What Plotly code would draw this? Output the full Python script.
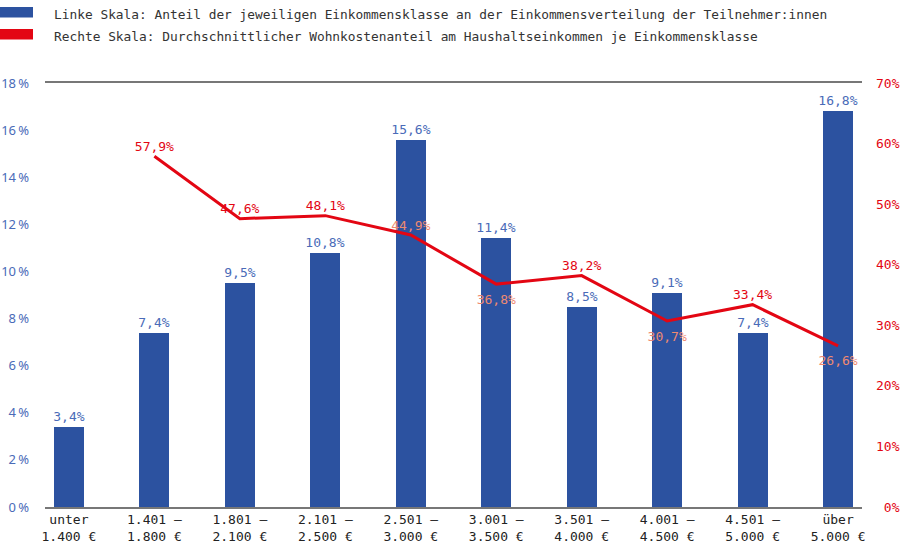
import plotly.graph_objects as go

categories = ["unter<br>1.400 €", "1.401 –<br>1.800 €", "1.801 –<br>2.100 €", "2.101 –<br>2.500 €",
              "2.501 –<br>3.000 €", "3.001 –<br>3.500 €", "3.501 –<br>4.000 €", "4.001 –<br>4.500 €",
              "4.501 –<br>5.000 €", "über<br>5.000 €"]
share_pct = [3.4, 7.4, 9.5, 10.8, 15.6, 11.4, 8.5, 9.1, 7.4, 16.8]
housing_cost_pct = [None, 57.9, 47.6, 48.1, 44.9, 36.8, 38.2, 30.7, 33.4, 26.6]
line_label_above = [False, True, True, True, True, False, True, False, True, False]
line_label_over_bar = [False, False, False, False, True, True, False, True, False, True]

left_ticks = [0, 2, 4, 6, 8, 10, 12, 14, 16, 18]
left_ticktext = [f"{v}\u202f%" for v in left_ticks]
right_ticks = [0, 10, 20, 30, 40, 50, 60, 70]
right_ticktext = [("\u00a0" if v < 10 else "") + f"{v}%" for v in right_ticks]

legend_texts = [
    "Linke Skala: Anteil der jeweiligen Einkommensklasse an der Einkommensverteilung der Teilnehmer:innen",
    "Rechte Skala: Durchschnittlicher Wohnkostenanteil am Haushaltseinkommen je Einkommensklasse",
]

BLUE = "#2c52a0"
BLUE_TXT = "#4a6bb8"
RED = "#e30613"
SALMON = "#ef8a70"
MONO = "DejaVu Sans Mono"


def fmt(v):
    return f"{v:.1f}".replace(".", ",") + "%"


fig = go.Figure()
fig.add_trace(go.Bar(
    x=categories, y=share_pct, marker_color=BLUE, marker_line_width=0, width=0.35,
    text=[fmt(v) for v in share_pct], textposition="outside", cliponaxis=False,
    constraintext="none",
    textfont=dict(family=MONO, size=13, color=BLUE_TXT), yaxis="y", showlegend=False,
    hoverinfo="skip",
))
fig.add_trace(go.Scatter(
    x=categories, y=housing_cost_pct, mode="lines", yaxis="y2",
    line=dict(color=RED, width=3), showlegend=False, hoverinfo="skip",
))

for above, msize, pos in [(True, 2, "top center"), (False, 14, "bottom center")]:
    ys = [v if (v is not None and a == above) else None
          for v, a in zip(housing_cost_pct, line_label_above)]
    fig.add_trace(go.Scatter(
        x=categories, y=ys, mode="markers+text", yaxis="y2",
        marker=dict(size=msize, color="rgba(0,0,0,0)"),
        text=[fmt(v) if v is not None else "" for v in ys],
        textposition=pos,
        textfont=dict(family=MONO, size=13,
                      color=[SALMON if o else RED for o in line_label_over_bar]),
        cliponaxis=False, showlegend=False, hoverinfo="skip",
    ))

shapes = []
annotations = []
for i, (txt, col) in enumerate(zip(legend_texts, [BLUE, RED])):
    top = 76 - i * 22
    shapes.append(dict(type="rect", xref="paper", yref="paper", xanchor=0, yanchor=1,
                       xsizemode="pixel", ysizemode="pixel",
                       x0=-45, x1=-12, y0=top - 10.5, y1=top,
                       fillcolor=col, line_width=0))
    annotations.append(dict(text=txt, xref="paper", yref="paper", x=0, y=1,
                            xanchor="left", yanchor="middle", xshift=7, yshift=top - 7,
                            showarrow=False,
                            font=dict(family=MONO, size=12.85, color="#333333")))

fig.update_layout(
    width=900, height=551,
    margin=dict(l=45, r=38, t=83, b=44),
    paper_bgcolor="white", plot_bgcolor="white",
    bargap=0,
    xaxis=dict(type="category", range=[-0.28, 9.28], showgrid=False, ticks="",
               showline=True, mirror=True, linecolor="#777777", linewidth=1.5,
               automargin=False,
               tickfont=dict(family=MONO, size=13, color="#222222")),
    yaxis=dict(range=[0, 18], tickvals=left_ticks, ticktext=left_ticktext, showgrid=False,
               zeroline=False, ticks="", ticklabelstandoff=15, automargin=False,
               tickfont=dict(family="Noto Sans", size=13, color=BLUE_TXT)),
    yaxis2=dict(range=[0, 70], overlaying="y", side="right", tickvals=right_ticks,
                ticktext=right_ticktext, showgrid=False, zeroline=False, ticks="",
                ticklabelstandoff=13, automargin=False,
                tickfont=dict(family=MONO, size=13, color=RED)),
    shapes=shapes, annotations=annotations,
)

fig.write_html("out.html")
